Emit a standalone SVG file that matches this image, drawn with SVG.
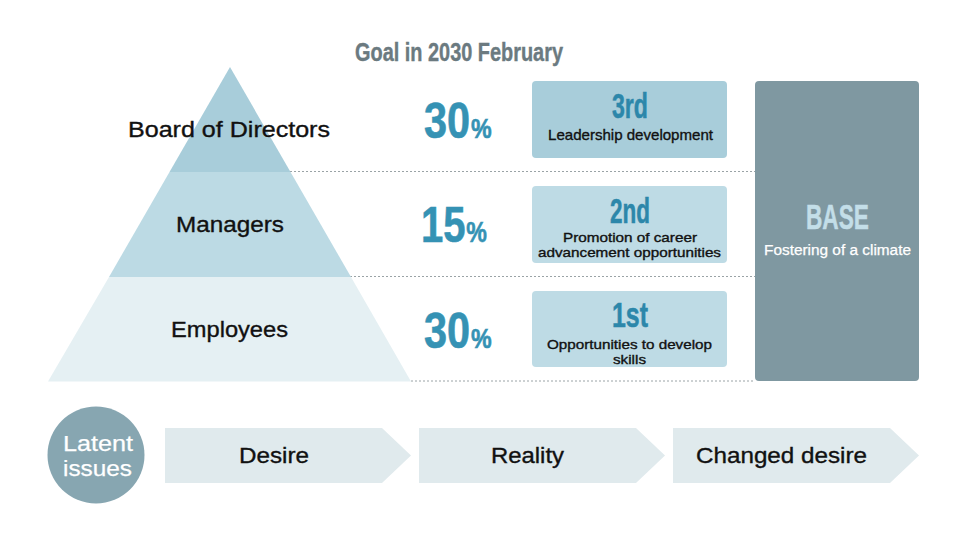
<svg xmlns="http://www.w3.org/2000/svg" width="968" height="545" viewBox="0 0 968 545">
<style>
.lbl{font-family:"Liberation Sans",Arial,sans-serif;fill:#111;stroke:#111;stroke-width:0.35;}
.wlbl{font-family:"Liberation Sans",Arial,sans-serif;fill:#ffffff;stroke:#ffffff;stroke-width:0.25;}
.cond{font-family:"Liberation Sans",Arial,sans-serif;font-weight:bold;}
.pct{fill:#3592b4;stroke:#3592b4;stroke-width:0.6;}
.rank{fill:#2c87aa;stroke:#2c87aa;stroke-width:0.5;}
.dot{stroke:#9aa3a6;stroke-width:1;stroke-dasharray:2 2;fill:none;}
.chev{fill:#e0eaed;}
</style>
<rect width="968" height="545" fill="#ffffff"/>
<g id="connectors">
<line class="dot" x1="290" y1="171.5" x2="755" y2="171.5"/>
<line class="dot" x1="350" y1="276.5" x2="755" y2="276.5"/>
<line class="dot" x1="411" y1="381" x2="755" y2="381"/>
</g>
<text id="title" class="cond" x="355" y="61" font-size="26" fill="#6b7a80" stroke="#6b7a80" stroke-width="0.4" textLength="208" lengthAdjust="spacingAndGlyphs">Goal in 2030 February</text>
<g id="tier-board">
<polygon points="230,67 290.5,172 169.5,172" fill="#a8cdda"/>
<text class="lbl" x="128" y="137" font-size="22" textLength="202" lengthAdjust="spacingAndGlyphs">Board of Directors</text>
</g>
<g id="tier-managers">
<polygon points="169.5,172 290.5,172 351,277 109,277" fill="#bcdae4"/>
<text class="lbl" x="176" y="232" font-size="22" textLength="108" lengthAdjust="spacingAndGlyphs">Managers</text>
</g>
<g id="tier-employees">
<polygon points="109,277 351,277 411,381.5 48,381.5" fill="#e5f0f3"/>
<text class="lbl" x="171" y="337" font-size="22" textLength="117" lengthAdjust="spacingAndGlyphs">Employees</text>
</g>
<g id="pct-board">
<text class="cond pct" transform="translate(424,138) scale(0.83,1)" x="0" y="0"><tspan font-size="50">30</tspan><tspan font-size="28" dx="1">%</tspan></text>
</g>
<g id="pct-managers">
<text class="cond pct" transform="translate(421,242) scale(0.8,1)" x="0" y="0"><tspan font-size="50">15</tspan><tspan font-size="29" dx="1">%</tspan></text>
</g>
<g id="pct-employees">
<text class="cond pct" transform="translate(424,348) scale(0.83,1)" x="0" y="0"><tspan font-size="50">30</tspan><tspan font-size="28" dx="1">%</tspan></text>
</g>
<g id="box-3rd">
<rect x="532" y="81" width="195" height="77" rx="4" fill="#a8cdda"/>
<text class="cond rank" x="612" y="118" font-size="35" textLength="36" lengthAdjust="spacingAndGlyphs">3rd</text>
<text class="lbl" x="548" y="140" font-size="14.5" stroke-width="0.25" textLength="165" lengthAdjust="spacingAndGlyphs">Leadership development</text>
</g>
<g id="box-2nd">
<rect x="532" y="186" width="195" height="77" rx="4" fill="#bedbe5"/>
<text class="cond rank" x="610" y="223" font-size="35" textLength="40" lengthAdjust="spacingAndGlyphs">2nd</text>
<text class="lbl" x="563" y="242" font-size="13" stroke-width="0.3" textLength="134" lengthAdjust="spacingAndGlyphs">Promotion of career</text>
<text class="lbl" x="538" y="256.5" font-size="13" stroke-width="0.3" textLength="183" lengthAdjust="spacingAndGlyphs">advancement opportunities</text>
</g>
<g id="box-1st">
<rect x="532" y="291" width="195" height="76" rx="4" fill="#bedbe5"/>
<text class="cond rank" x="612" y="327" font-size="35" textLength="36" lengthAdjust="spacingAndGlyphs">1st</text>
<text class="lbl" x="547" y="349" font-size="13" stroke-width="0.3" textLength="165" lengthAdjust="spacingAndGlyphs">Opportunities to develop</text>
<text class="lbl" x="613" y="363.5" font-size="13" stroke-width="0.3" textLength="33" lengthAdjust="spacingAndGlyphs">skills</text>
</g>
<g id="base">
<rect x="755" y="81" width="164" height="300" rx="4" fill="#7f98a1"/>
<text class="cond" x="806" y="229" font-size="35" fill="#c3dee8" stroke="#c3dee8" stroke-width="0.5" textLength="63" lengthAdjust="spacingAndGlyphs">BASE</text>
<text class="wlbl" x="764" y="255" font-size="14" textLength="147" lengthAdjust="spacingAndGlyphs">Fostering of a climate</text>
</g>
<g id="latent">
<circle cx="96" cy="455" r="48.5" fill="#87a6b1"/>
<text class="wlbl" x="63" y="450.5" font-size="22" textLength="70" lengthAdjust="spacingAndGlyphs">Latent</text>
<text class="wlbl" x="63" y="475.5" font-size="22" textLength="69" lengthAdjust="spacingAndGlyphs">issues</text>
</g>
<g id="desire">
<polygon class="chev" points="165,428 382,428 411,455.5 382,483 165,483"/>
<text class="lbl" x="239" y="463" font-size="22" textLength="70" lengthAdjust="spacingAndGlyphs">Desire</text>
</g>
<g id="reality">
<polygon class="chev" points="419,428 636,428 665,455.5 636,483 419,483"/>
<text class="lbl" x="491" y="463" font-size="22" textLength="73" lengthAdjust="spacingAndGlyphs">Reality</text>
</g>
<g id="changed-desire">
<polygon class="chev" points="673,428 890,428 919,455.5 890,483 673,483"/>
<text class="lbl" x="696" y="463" font-size="22" textLength="171" lengthAdjust="spacingAndGlyphs">Changed desire</text>
</g>
</svg>
